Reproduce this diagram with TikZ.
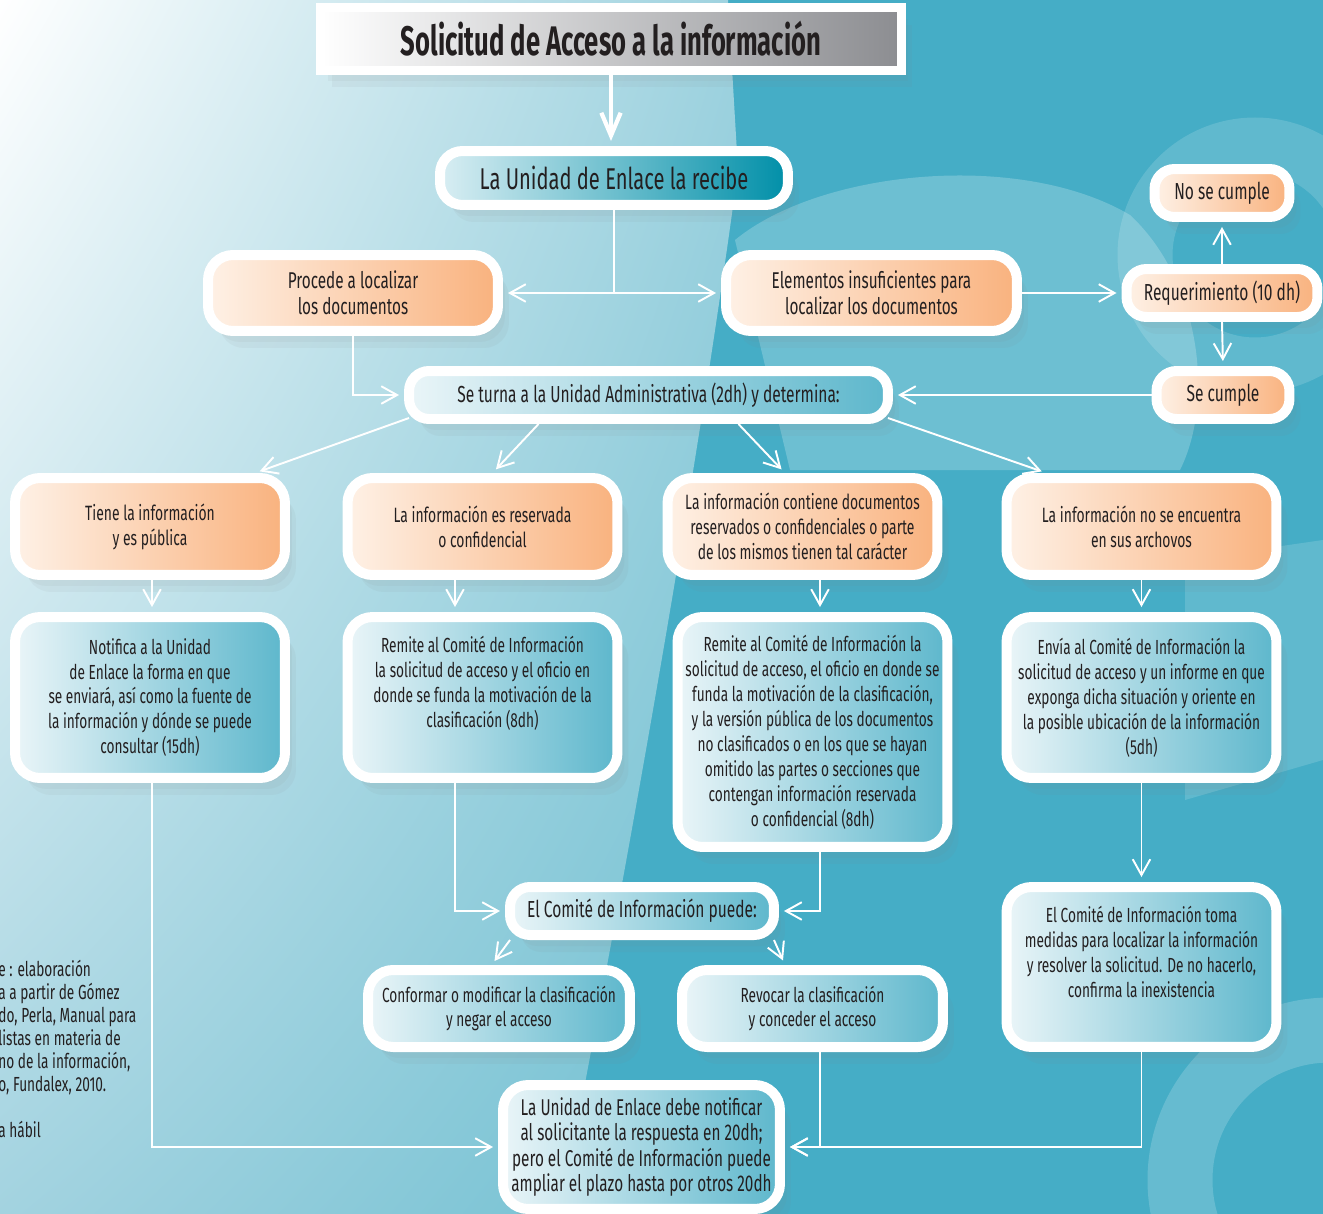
\documentclass[tikz,border=0pt]{standalone}
\usepackage{fontspec}
\setmainfont{Fira Sans}[FakeStretch=0.67]
\newfontfamily\tituloFont{Fira Sans}[FakeStretch=0.62]
\usetikzlibrary{arrows.meta,shadows,shadings,positioning,calc}

\definecolor{fondoTeal}{HTML}{45ADC6}
\definecolor{fondoMedio}{HTML}{9ED2DF}
\definecolor{fondoClaro}{HTML}{A3D3E0}
\definecolor{fondoBajo}{HTML}{6FBFD1}
\definecolor{naranjaClaro}{HTML}{FEF1E6}
\definecolor{naranja}{HTML}{F9B27E}
\definecolor{azulClaro}{HTML}{EAF5F8}
\definecolor{azul}{HTML}{5DB7CC}
\definecolor{enlaceClaro}{HTML}{D9EEF3}
\definecolor{enlaceAzul}{HTML}{008FA8}
\definecolor{gris}{HTML}{8C8D91}
\definecolor{textoOscuro}{HTML}{231F20}

\newcommand{\chico}{\fontsize{11.6}{14.2}\selectfont}
\newcommand{\medio}{\fontsize{11.8}{14.2}\selectfont}
\newcommand{\grande}{\fontsize{13}{14.6}\selectfont}
\newcommand{\unaLinea}{\fontsize{13.2}{16}\selectfont}

\begin{document}
\begin{tikzpicture}[x=0.02cm,y=-0.02cm,
    sombra/.style={drop shadow={opacity=0.07,shadow xshift=0.06cm,shadow yshift=-0.1cm},
                   drop shadow={opacity=0.07,shadow xshift=0.14cm,shadow yshift=-0.22cm},
                   drop shadow={opacity=0.07,shadow xshift=0.22cm,shadow yshift=-0.34cm}},
    caja/.style={draw=white,line width=0.2cm,rounded corners=0.5cm,text=textoOscuro,
                 align=center,inner sep=0pt,sombra},
    cajaNaranja/.style={caja,left color=naranjaClaro,right color=naranja},
    cajaAzul/.style={caja,left color=azulClaro,right color=azul},
    cajaChica/.style={rounded corners=0.4cm,minimum height=0.96cm,font=\unaLinea},
    linea/.style={draw=white,line width=1.1pt},
    flecha/.style={linea,-{Straight Barb[length=9pt,width=10pt]},shorten >=0.1cm}]

    \useasboundingbox (0,0) rectangle (1323,1214);

    % fondo
    \fill[fondoTeal] (0,0) rectangle (1323,1214);
    \shade[upper left=white,upper right=fondoMedio,lower left=fondoClaro,lower right=fondoBajo]
        (0,0) -- (728,0) -- (738,170) .. controls (700,450) and (640,800) .. (560,1214) -- (0,1214) -- cycle;
    \fill[white,opacity=0.22] (735,240) .. controls (820,170) and (1020,150) .. (1130,215)
        .. controls (1200,280) and (1215,400) .. (1180,470) -- (790,470) -- cycle;
    \draw[white,opacity=0.15,line width=1.1cm] (1255,255) circle (110);
    \draw[white,opacity=0.18,line width=1.3cm] (1330,1180) circle (150);
    \fill[white,opacity=0.15] (1185,560) -- (1323,540) -- (1323,760) -- (1185,800) -- cycle;

    % titulo y recepcion
    \node[draw=white,line width=0.18cm,left color=white,right color=gris,minimum width=11.62cm,
          minimum height=1.26cm,inner sep=0pt,sombra,text=textoOscuro,font=\tituloFont\bfseries\fontsize{23.5}{26}\selectfont]
          (tituloNode) at (611,39) {Solicitud de Acceso a la información};
    \node[caja,left color=enlaceClaro,right color=enlaceAzul,rounded corners=0.45cm,minimum width=6.96cm,
          minimum height=1.08cm,font=\fontsize{17.1}{19}\selectfont] (enlaceNode) at (614,178) {La Unidad de Enlace la recibe};

    \node[cajaNaranja,minimum width=5.8cm,minimum height=1.52cm,font=\grande] (procedeNode) at (353,293)
        {Procede a localizar\\los documentos};
    \node[cajaNaranja,minimum width=5.82cm,minimum height=1.52cm,font=\grande] (elementosNode) at (871.5,293)
        {Elementos insuficientes para\\localizar los documentos};
    \node[cajaNaranja,cajaChica,minimum width=2.7cm] (noCumpleNode) at (1222,193) {No se cumple};
    \node[cajaNaranja,cajaChica,minimum width=3.82cm] (requerimientoNode) at (1222,293) {Requerimiento (10 dh)};
    \node[cajaNaranja,cajaChica,minimum width=2.66cm] (siCumpleNode) at (1223,395) {Se cumple};
    \node[cajaAzul,cajaChica,minimum width=9.58cm] (turnaNode) at (648.5,395)
        {Se turna a la Unidad Administrativa (2dh) y determina:};

    % determinaciones
    \node[cajaNaranja,minimum width=5.4cm,minimum height=1.94cm,font=\medio] (tieneNode) at (150,526.5)
        {Tiene la información\\y es pública};
    \node[cajaNaranja,minimum width=5.4cm,minimum height=1.94cm,font=\medio] (reservadaNode) at (482.5,526.5)
        {La información es reservada\\o confidencial};
    \node[cajaNaranja,minimum width=5.4cm,minimum height=1.94cm,font=\medio] (contieneNode) at (802.5,526.5)
        {La información contiene documentos\\reservados o confidenciales o parte\\de los mismos tienen tal carácter};
    \node[cajaNaranja,minimum width=5.4cm,minimum height=1.94cm,font=\medio] (noEncuentraNode) at (1141.5,526.5)
        {La información no se encuentra\\en sus archovos};

    \node[cajaAzul,minimum width=5.4cm,minimum height=3.22cm,font=\chico] (notificaNode) at (150,697.5)
        {Notifica a la Unidad\\de Enlace la forma en que\\se enviará, así como la fuente de\\la información y dónde se puede\\consultar (15dh)};
    \node[cajaAzul,minimum width=5.4cm,minimum height=3.22cm] (remiteNode) at (482.5,697.5) {};
    \node[align=center,text=textoOscuro,font=\chico,inner sep=0pt] (remiteTexto) at (482.5,683)
        {Remite al Comité de Información\\la solicitud de acceso y el oficio en\\donde se funda la motivación de la\\clasificación (8dh)};
    \node[cajaAzul,minimum width=5.4cm,minimum height=4.6cm,font=\chico] (remiteDosNode) at (812.5,732)
        {Remite al Comité de Información la\\solicitud de acceso, el oficio en donde se\\funda la motivación de la clasificación,\\y la versión pública de los documentos\\no clasificados o en los que se hayan\\omitido las partes o secciones que\\contengan información reservada\\o confidencial (8dh)};
    \node[cajaAzul,minimum width=5.4cm,minimum height=3.22cm,font=\chico] (enviaNode) at (1141.5,697.5)
        {Envía al Comité de Información la\\solicitud de acceso y un informe en que\\exponga dicha situación y oriente en\\la posible ubicación de la información\\(5dh)};

    % comite
    \node[cajaAzul,cajaChica,minimum width=5.28cm] (puedeNode) at (642,911) {El Comité de Información puede:};
    \node[cajaAzul,minimum width=5.24cm,minimum height=1.54cm,font=\chico] (conformarNode) at (499,1008.5)
        {Conformar o modificar la clasificación\\y negar el acceso};
    \node[cajaAzul,minimum width=5.22cm,minimum height=1.54cm,font=\chico] (revocarNode) at (812.5,1008.5)
        {Revocar la clasificación\\y conceder el acceso};
    \node[cajaAzul,minimum width=5.4cm,minimum height=3.2cm] (tomaNode) at (1141.5,967) {};
    \node[align=center,text=textoOscuro,font=\chico,inner sep=0pt] (tomaTexto) at (1141.5,952)
        {El Comité de Información toma\\medidas para localizar la información\\y resolver la solicitud. De no hacerlo,\\confirma la inexistencia};
    \node[cajaAzul,minimum width=5.54cm,minimum height=2.48cm,font=\grande] (finalNode) at (641.5,1147)
        {La Unidad de Enlace debe notificar\\al solicitante la respuesta en 20dh;\\pero el Comité de Información puede\\ampliar el plazo hasta por otros 20dh};

    % nota
    \node[anchor=north west,align=left,text=textoOscuro,font=\fontsize{11.6}{13.1}\selectfont,inner sep=0pt]
        (notaNode) at (-2,960) {e : elaboración\\a a partir de Gómez\\do, Perla, Manual para\\listas en materia de\\no de la información,\\o, Fundalex, 2010.\\[13pt]a hábil};

    % conectores
    \draw[linea,line width=2.4pt,-{Straight Barb[length=13pt,width=11pt]},shorten >=0.1cm]
        (tituloNode.south) -- (tituloNode.south |- enlaceNode.north);
    \draw[flecha] (enlaceNode.south) |- (procedeNode.east);
    \draw[flecha] (enlaceNode.south) |- (elementosNode.west);
    \draw[flecha] (elementosNode.east) -- (requerimientoNode.west);
    \draw[flecha] (requerimientoNode.north) -- (noCumpleNode.south);
    \draw[flecha] (requerimientoNode.south) -- (siCumpleNode.north);
    \draw[flecha] (siCumpleNode.west) -- (turnaNode.east);
    \draw[flecha] (procedeNode.south) |- (turnaNode.west);

    \draw[flecha] ([xshift=0.1cm,yshift=0.12cm]turnaNode.south west) -- ([xshift=-0.7cm]tieneNode.north east);
    \draw[flecha] ([xshift=-2.2cm]turnaNode.south) -- ([xshift=0.2cm]reservadaNode.north);
    \draw[flecha] ([xshift=1.8cm]turnaNode.south) -- ([xshift=-0.35cm]contieneNode.north);
    \draw[flecha] ([xshift=-0.1cm,yshift=0.12cm]turnaNode.south east) -- ([xshift=-1.9cm]noEncuentraNode.north);

    \draw[flecha] ([xshift=0.04cm]tieneNode.south) -- ([xshift=0.04cm]notificaNode.north);
    \draw[flecha] ([xshift=-0.55cm]reservadaNode.south) -- ([xshift=-0.55cm]remiteNode.north);
    \draw[flecha] ([xshift=0.35cm]contieneNode.south) -- ([xshift=0.15cm]remiteDosNode.north);
    \draw[flecha] (noEncuentraNode.south) -- (enviaNode.north);

    \draw[flecha] ([xshift=-0.55cm]remiteNode.south) |- (puedeNode.west);
    \draw[flecha] ([xshift=0.15cm]remiteDosNode.south) |- (puedeNode.east);
    \draw[flecha] ([xshift=0.1cm]puedeNode.south west) -- ([xshift=-0.15cm]conformarNode.north);
    \draw[flecha] ([xshift=-0.1cm]puedeNode.south east) -- ([xshift=-0.55cm]revocarNode.north);
    \draw[flecha] (enviaNode.south) -- (tomaNode.north);

    \draw[flecha] ([xshift=0.04cm]notificaNode.south) |- (finalNode.west);
    \draw[flecha] ([xshift=0.15cm]revocarNode.south) |- (finalNode.east);
    \draw[flecha] (tomaNode.south) |- (finalNode.east);

\end{tikzpicture}
\end{document}
